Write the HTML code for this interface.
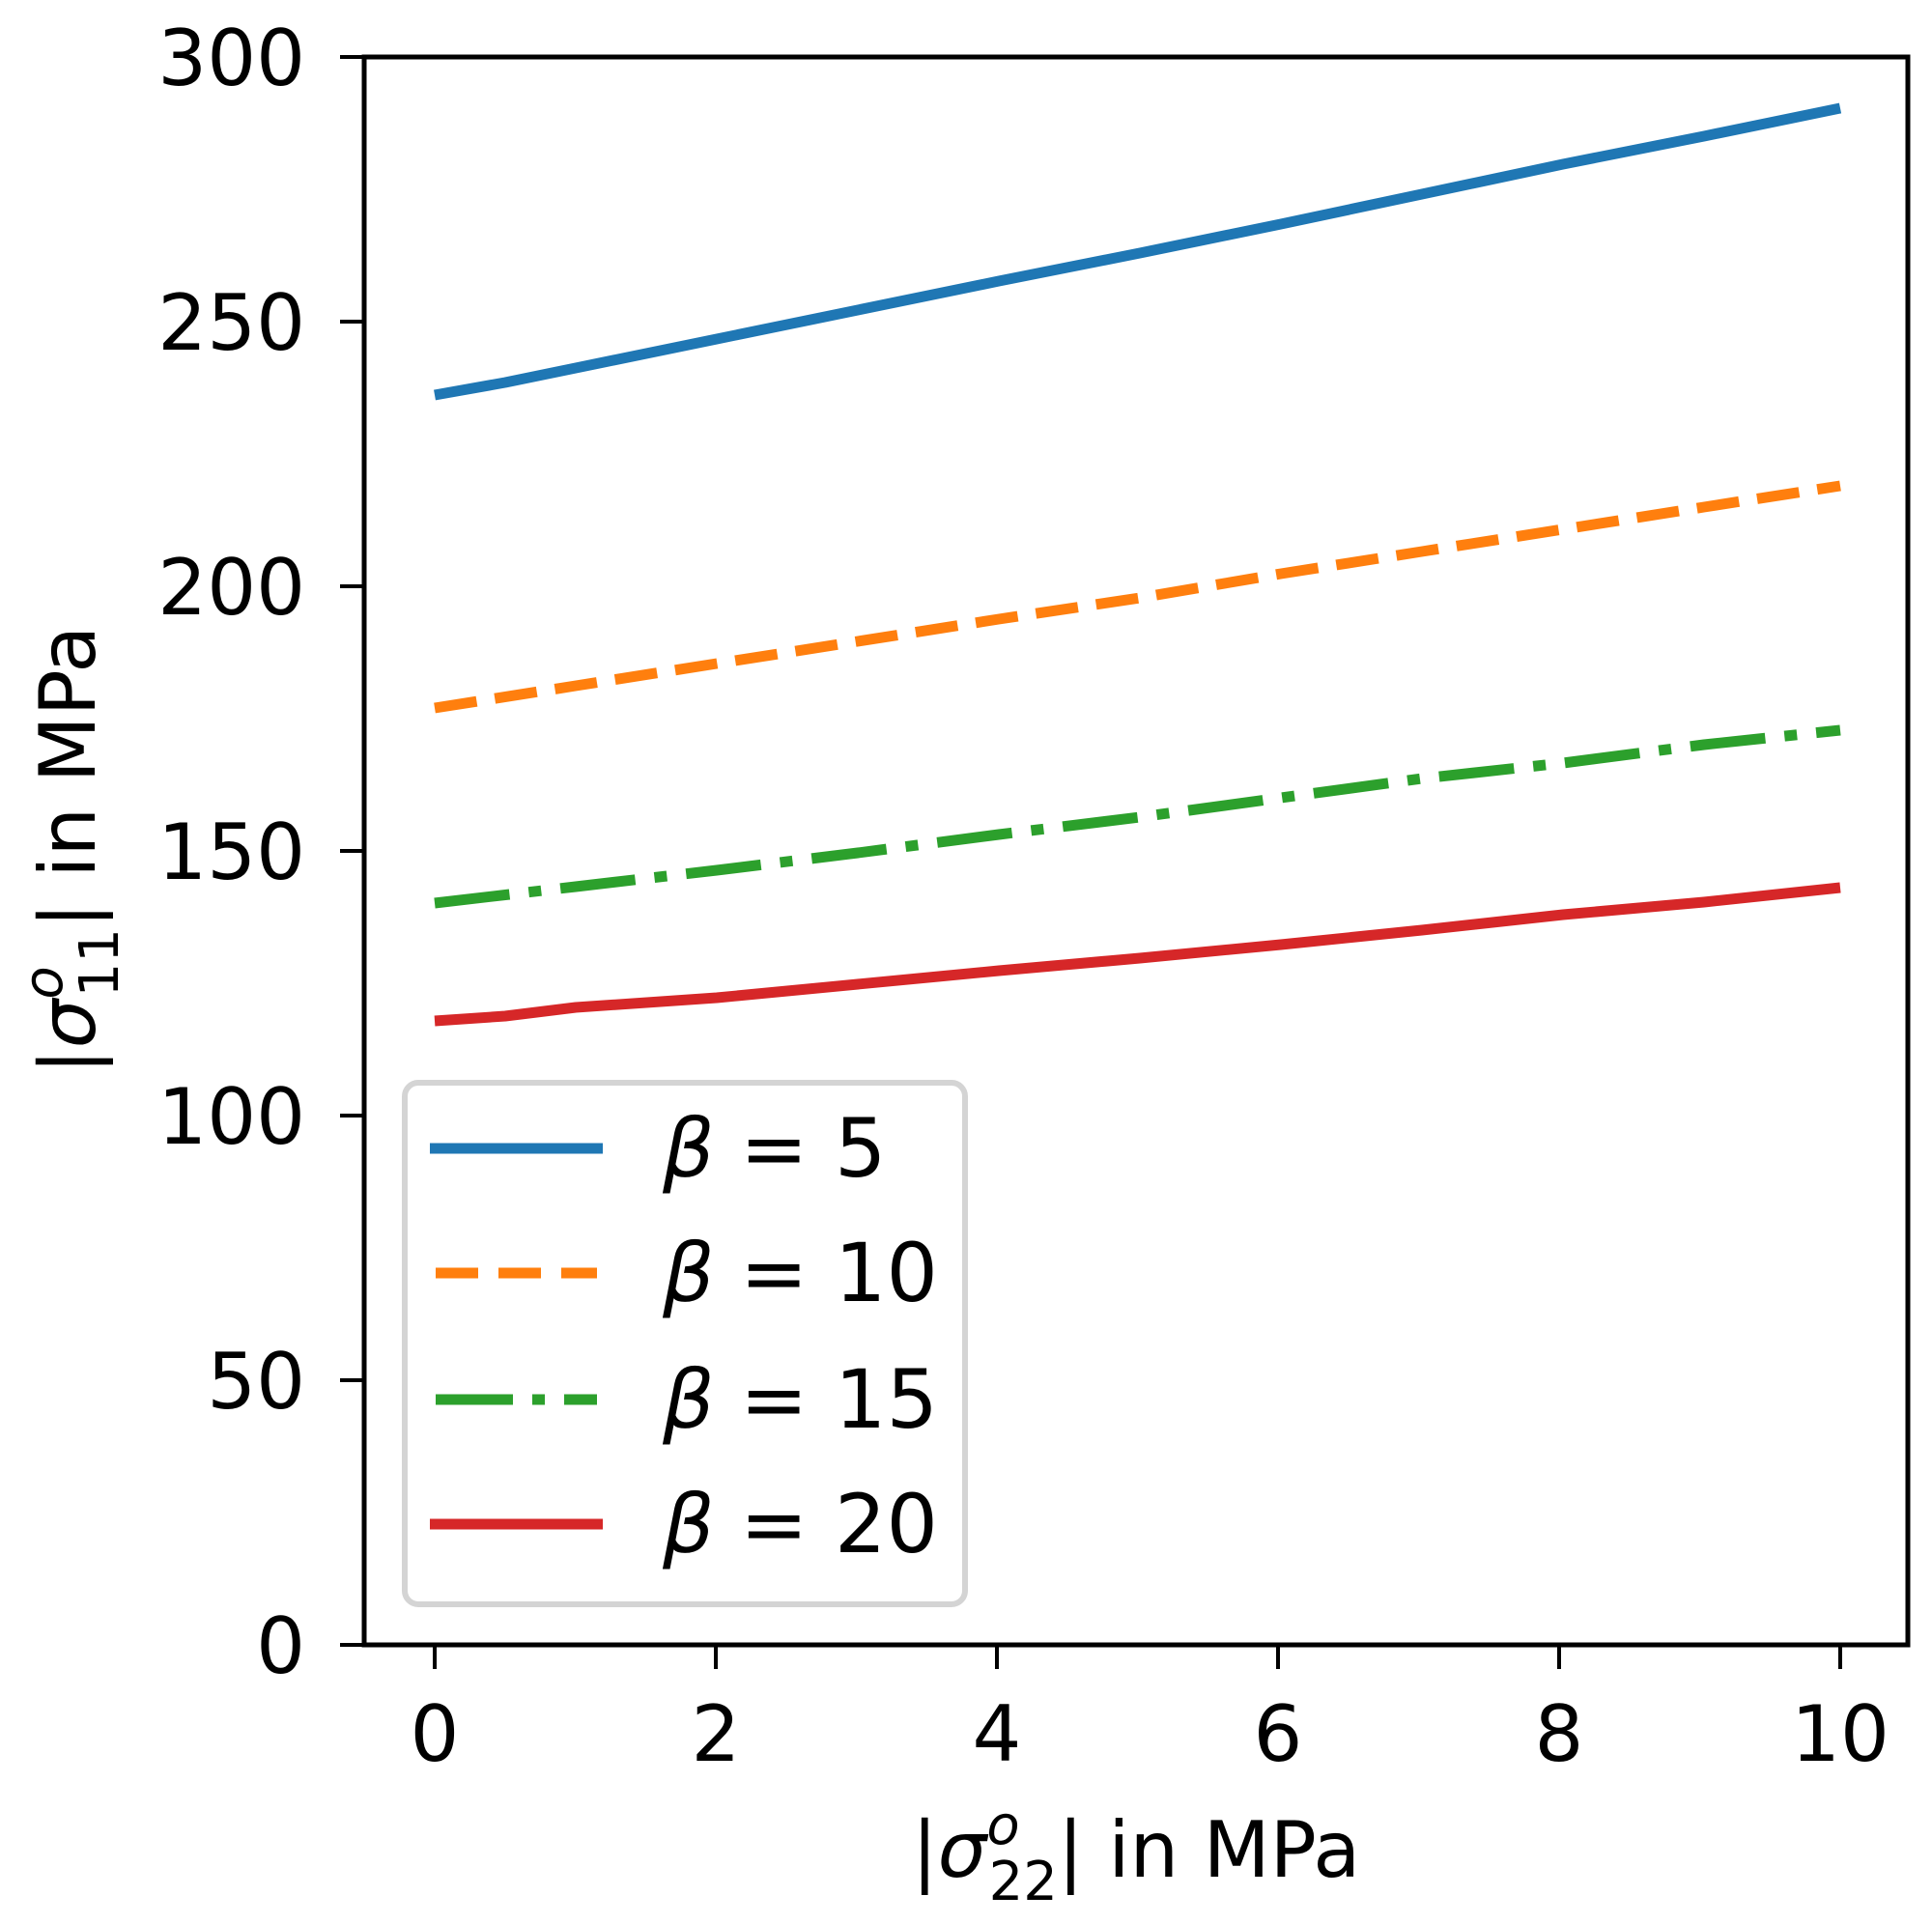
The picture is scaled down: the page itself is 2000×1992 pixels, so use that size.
<!DOCTYPE html>
<html><head><meta charset="utf-8"><style>body{margin:0;background:#fff}svg{display:block}</style></head>
<body>
<svg width="2000" height="1992" viewBox="0 0 2000 1992" xmlns="http://www.w3.org/2000/svg" font-family="'DejaVu Sans','Liberation Sans',sans-serif">
<rect width="2000" height="1992" fill="#fff"/>
<g fill="none" stroke-width="11" stroke-linecap="butt" stroke-linejoin="round">
<polyline stroke="#1f77b4" points="450,409 523,396 596,381 742,351 888,321 1034,291 1180,262 1326,232 1472,201 1618,170 1764,141 1905,112"/>
<polyline stroke="#ff7f0e" stroke-dasharray="44,19" points="450,733 596,710 742,687 888,664 1034,641 1180,619 1326,594 1472,571 1618,548 1764,525 1905,503"/>
<polyline stroke="#2ca02c" stroke-dasharray="78,20,13,20" points="450,935 596,918 742,901 888,883 1034,864 1180,846 1326,826 1472,806 1618,790 1764,771 1905,756"/>
<polyline stroke="#d62728" points="450,1057 523,1052 596,1043 742,1033 888,1019 1034,1005 1180,992 1326,978 1472,963 1618,947 1764,934 1905,919"/>
</g>
<rect x="377" y="59" width="1598" height="1644" fill="none" stroke="#000" stroke-width="5"/>
<g stroke="#000" stroke-width="4">
<line x1="352" y1="59" x2="377" y2="59"/><line x1="352" y1="333" x2="377" y2="333"/><line x1="352" y1="607" x2="377" y2="607"/><line x1="352" y1="881" x2="377" y2="881"/><line x1="352" y1="1155" x2="377" y2="1155"/><line x1="352" y1="1429" x2="377" y2="1429"/><line x1="352" y1="1703" x2="377" y2="1703"/>
<line x1="450" y1="1703" x2="450" y2="1728"/><line x1="741" y1="1703" x2="741" y2="1728"/><line x1="1032" y1="1703" x2="1032" y2="1728"/><line x1="1323" y1="1703" x2="1323" y2="1728"/><line x1="1614" y1="1703" x2="1614" y2="1728"/><line x1="1905" y1="1703" x2="1905" y2="1728"/>
</g>
<g font-size="80" fill="#000" text-anchor="end">
<text x="316" y="88">300</text><text x="316" y="362">250</text><text x="316" y="636">200</text><text x="316" y="910">150</text><text x="316" y="1184">100</text><text x="316" y="1458">50</text><text x="316" y="1732">0</text>
</g>
<g font-size="80" fill="#000" text-anchor="middle">
<text x="450" y="1823">0</text><text x="741" y="1823">2</text><text x="1032" y="1823">4</text><text x="1323" y="1823">6</text><text x="1614" y="1823">8</text><text x="1905" y="1823">10</text>
</g>
<text x="1176" y="1943" font-size="80" text-anchor="middle">|<tspan font-style="italic">σ</tspan><tspan font-size="56" dy="-34" font-style="italic">o</tspan><tspan font-size="56" dx="-32" dy="58">22</tspan><tspan dy="-24">| in MPa</tspan></text>
<text transform="translate(98,880) rotate(-90)" font-size="80" text-anchor="middle">|<tspan font-style="italic">σ</tspan><tspan font-size="56" dy="-34" font-style="italic">o</tspan><tspan font-size="56" dx="-32" dy="58">11</tspan><tspan dy="-24">| in MPa</tspan></text>
<rect x="419" y="1121" width="580" height="540" rx="14" fill="#fff" fill-opacity="0.8" stroke="#d4d4d4" stroke-width="6"/>
<g stroke-width="11" fill="none">
<line x1="445" y1="1189" x2="624" y2="1189" stroke="#1f77b4"/>
<line x1="451" y1="1318" x2="618" y2="1318" stroke="#ff7f0e" stroke-dasharray="44,21"/>
<line x1="451" y1="1449" x2="618" y2="1449" stroke="#2ca02c" stroke-dasharray="80,20,13,20"/>
<line x1="445" y1="1578" x2="624" y2="1578" stroke="#d62728"/>
</g>
<g font-size="84" fill="#000">
<text x="686" y="1218"><tspan font-style="italic">β</tspan><tspan x="766">=</tspan><tspan x="864">5</tspan></text>
<text x="686" y="1347"><tspan font-style="italic">β</tspan><tspan x="766">=</tspan><tspan x="864">10</tspan></text>
<text x="686" y="1478"><tspan font-style="italic">β</tspan><tspan x="766">=</tspan><tspan x="864">15</tspan></text>
<text x="686" y="1607"><tspan font-style="italic">β</tspan><tspan x="766">=</tspan><tspan x="864">20</tspan></text>
</g>
</svg>
</body></html>
